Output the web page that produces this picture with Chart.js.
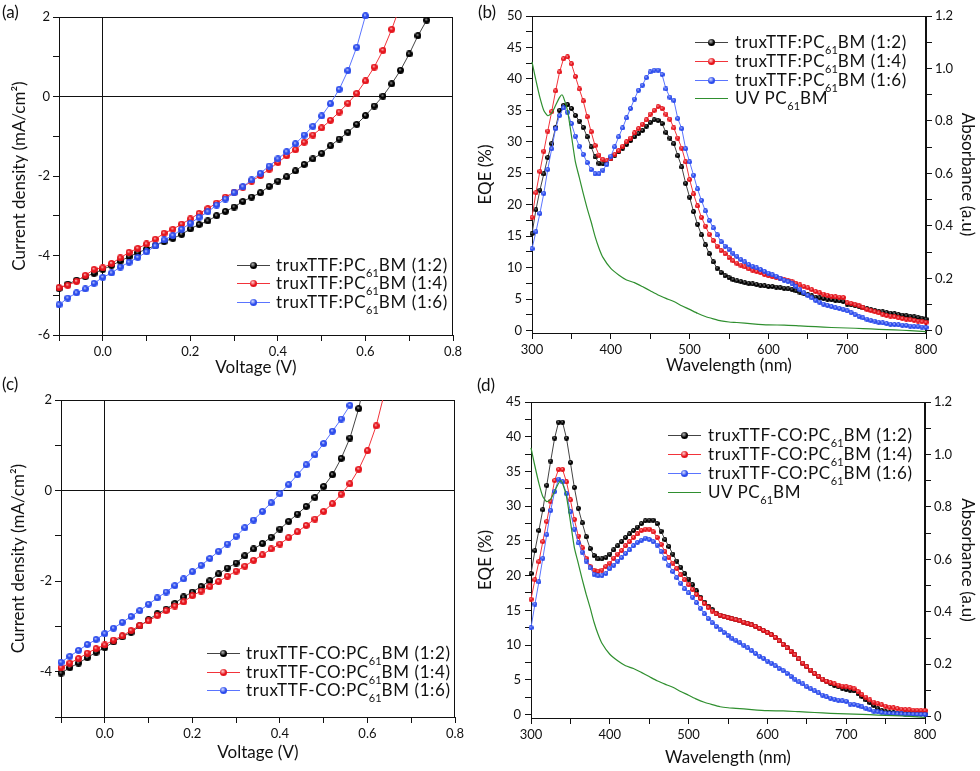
<!DOCTYPE html>
<html>
<head>
<meta charset="utf-8">
<script src="https://cdn.jsdelivr.net/npm/chart.js@4.4.1/dist/chart.umd.min.js"></script>
<style>
  body { margin: 0; background: #fff; }
  #fig { position: relative; width: 980px; height: 771px; overflow: hidden;
         font-family: Lato, "Open Sans", sans-serif; color: #111; }
  #fig canvas { position: absolute; }
  .tag { position: absolute; font-size: 17px; line-height: 17px; z-index: 2; }
  .leg { position: absolute; font-size: 17px; letter-spacing: 0.6px; white-space: nowrap; z-index: 2; }
  .leg .row { position: absolute; left: 0; height: 18px; }
  .leg .ln { position: absolute; left: 0; top: 9px; width: 33px; height: 1px; }
  .leg .dot { position: absolute; left: 13px; top: 6px; width: 7px; height: 7px; border-radius: 50%; }
  .leg .tx { position: absolute; top: 0; line-height: 18px; }
  .leg sub { font-size: 11px; letter-spacing: 0; line-height: 0; vertical-align: -6px; }
</style>
</head>
<body>
<div id="fig">
  <canvas id="cA" width="472" height="385" style="left:0;top:0"></canvas>
  <canvas id="cB" width="508" height="385" style="left:472px;top:0"></canvas>
  <canvas id="cC" width="472" height="386" style="left:0;top:385px"></canvas>
  <canvas id="cD" width="508" height="386" style="left:472px;top:385px"></canvas>
  <div class="tag" style="left:2px;top:3px">(a)</div>
  <div class="tag" style="left:478px;top:3px">(b)</div>
  <div class="tag" style="left:2px;top:375px">(c)</div>
  <div class="tag" style="left:477px;top:376px">(d)</div>
</div>
<script>
// =====================================================
// DATA
// =====================================================

// --- (a) J-V, truxTTF:PC61BM ---
const jvVoltageA = [
  -0.10, -0.08, -0.06, -0.04, -0.02, 0.00, 0.02, 0.04, 0.06, 0.08,
  0.10, 0.12, 0.14, 0.16, 0.18, 0.20, 0.22, 0.24, 0.26, 0.28,
  0.30, 0.32, 0.34, 0.36, 0.38, 0.40, 0.42, 0.44, 0.46, 0.48,
  0.50, 0.52, 0.54, 0.56, 0.58, 0.60, 0.62, 0.64, 0.66, 0.68,
  0.70, 0.72, 0.74
];
const jvA_12 = [
  -4.83, -4.72, -4.62, -4.53, -4.45, -4.35, -4.25, -4.14, -4.03, -3.93,
  -3.84, -3.75, -3.65, -3.57, -3.47, -3.33, -3.22, -3.13, -3.00, -2.89,
  -2.78, -2.64, -2.53, -2.42, -2.26, -2.13, -2.02, -1.87, -1.71, -1.57,
  -1.43, -1.24, -1.07, -0.90, -0.70, -0.48, -0.24, 0.01, 0.32, 0.66,
  1.07, 1.53, 1.92
];
const jvA_14 = [
  -4.81, -4.75, -4.65, -4.50, -4.35, -4.31, -4.20, -4.06, -3.92, -3.82,
  -3.71, -3.59, -3.44, -3.34, -3.21, -3.08, -2.94, -2.82, -2.68, -2.53,
  -2.41, -2.28, -2.13, -1.99, -1.83, -1.66, -1.49, -1.34, -1.15, -0.97,
  -0.79, -0.60, -0.39, -0.17, 0.08, 0.39, 0.74, 1.16, 1.69, 2.30,
  null, null, null
];
const jvA_16 = [
  -5.24, -5.07, -4.94, -4.84, -4.70, -4.55, -4.44, -4.29, -4.17, -4.05,
  -3.91, -3.76, -3.61, -3.50, -3.34, -3.19, -3.04, -2.90, -2.73, -2.58,
  -2.42, -2.27, -2.10, -1.93, -1.75, -1.57, -1.39, -1.19, -0.97, -0.75,
  -0.49, -0.18, 0.18, 0.65, 1.24, 2.03, null, null, null, null,
  null, null, null
];

// --- (c) J-V, truxTTF-CO:PC61BM ---
const jvVoltageC = [
  -0.10, -0.08, -0.06, -0.04, -0.02, 0.00, 0.02, 0.04, 0.06, 0.08,
  0.10, 0.12, 0.14, 0.16, 0.18, 0.20, 0.22, 0.24, 0.26, 0.28,
  0.30, 0.32, 0.34, 0.36, 0.38, 0.40, 0.42, 0.44, 0.46, 0.48,
  0.50, 0.52, 0.54, 0.56, 0.58, 0.60, 0.62, 0.64
];
const jvC_12 = [
  -4.03, -3.91, -3.81, -3.69, -3.57, -3.47, -3.34, -3.23, -3.13, -2.99,
  -2.85, -2.72, -2.62, -2.49, -2.35, -2.24, -2.12, -1.99, -1.84, -1.71,
  -1.60, -1.44, -1.29, -1.17, -1.03, -0.85, -0.68, -0.52, -0.35, -0.15,
  0.09, 0.35, 0.71, 1.16, 1.81, 2.70, null, null
];
const jvC_14 = [
  -3.91, -3.81, -3.71, -3.59, -3.49, -3.41, -3.30, -3.21, -3.09, -2.98,
  -2.88, -2.76, -2.65, -2.55, -2.46, -2.32, -2.22, -2.12, -2.01, -1.89,
  -1.78, -1.67, -1.54, -1.42, -1.29, -1.18, -1.04, -0.91, -0.77, -0.63,
  -0.46, -0.29, -0.08, 0.15, 0.47, 0.88, 1.43, 2.20
];
const jvC_16 = [
  -3.79, -3.66, -3.53, -3.40, -3.29, -3.16, -3.04, -2.91, -2.78, -2.65,
  -2.51, -2.37, -2.24, -2.10, -1.95, -1.79, -1.65, -1.50, -1.34, -1.18,
  -1.01, -0.82, -0.65, -0.46, -0.27, -0.07, 0.13, 0.35, 0.57, 0.79,
  1.04, 1.31, 1.58, 1.88, null, null, null, null
];

// --- (b)/(d) EQE spectra ---
const eqeWavelength = [
  300, 305, 310, 315, 320, 325, 330, 335, 340, 345,
  350, 355, 360, 365, 370, 375, 380, 385, 390, 395,
  400, 405, 410, 415, 420, 425, 430, 435, 440, 445,
  450, 455, 460, 465, 470, 475, 480, 485, 490, 495,
  500, 505, 510, 515, 520, 525, 530, 535, 540, 545,
  550, 555, 560, 565, 570, 575, 580, 585, 590, 595,
  600, 605, 610, 615, 620, 625, 630, 635, 640, 645,
  650, 655, 660, 665, 670, 675, 680, 685, 690, 695,
  700, 705, 710, 715, 720, 725, 730, 735, 740, 745,
  750, 755, 760, 765, 770, 775, 780, 785, 790, 795,
  800
];
const eqeB_12 = [
  15.4, 19.2, 22.3, 24.9, 27.5, 29.7, 32.3, 35.0, 35.8, 35.9,
  35.3, 34.2, 33.3, 32.3, 30.8, 29.2, 27.6, 26.6, 26.5, 26.8,
  27.3, 27.9, 28.4, 29.0, 29.6, 30.2, 30.8, 31.3, 31.8, 32.5,
  33.1, 33.5, 33.4, 32.9, 31.5, 30.6, 29.7, 27.8, 26.0, 23.4,
  21.2, 18.9, 16.9, 15.2, 13.6, 12.2, 10.9, 9.9, 9.2, 8.7,
  8.4, 8.1, 7.9, 7.8, 7.6, 7.5, 7.4, 7.3, 7.2, 7.1,
  7.0, 7.0, 6.9, 6.8, 6.7, 6.6, 6.5, 6.3, 6.1, 5.9,
  5.7, 5.5, 5.3, 5.2, 5.1, 5.0, 4.9, 4.8, 4.7, 4.6,
  4.2, 4.1, 3.95, 3.8, 3.6, 3.5, 3.35, 3.2, 3.05, 2.95,
  2.85, 2.75, 2.65, 2.55, 2.45, 2.35, 2.25, 2.15, 2.05, 1.95,
  1.8
];
const eqeB_14 = [
  18.0, 21.9, 25.3, 28.5, 31.7, 34.8, 38.1, 41.1, 43.2, 43.5,
  42.4, 40.4, 38.4, 36.5, 34.0, 31.6, 29.4, 27.9, 27.2, 27.0,
  27.3, 28.0, 28.6, 29.3, 30.0, 30.6, 31.4, 32.1, 32.8, 33.5,
  34.4, 35.0, 35.6, 35.3, 34.4, 33.6, 32.2, 30.6, 29.0, 26.8,
  24.0, 21.7, 19.8, 18.0, 16.6, 15.3, 14.3, 13.4, 12.7, 12.2,
  11.6, 11.1, 10.7, 10.4, 10.1, 9.8, 9.6, 9.4, 9.2, 8.9,
  8.7, 8.55, 8.4, 8.25, 8.1, 7.95, 7.75, 7.5, 7.25, 7.0,
  6.8, 6.5, 6.2, 6.0, 5.8, 5.6, 5.45, 5.35, 5.3, 5.25,
  4.4, 4.3, 4.1, 3.9, 3.7, 3.4, 3.2, 3.0, 2.8, 2.6,
  2.4, 2.3, 2.2, 2.0, 1.9, 1.8, 1.7, 1.6, 1.5, 1.4,
  1.3
];
const eqeB_16 = [
  13.0, 15.7, 18.6, 21.8, 25.6, 28.9, 32.1, 34.2, 35.4, 34.7,
  32.9, 30.9, 29.3, 28.0, 26.7, 25.6, 24.9, 24.9, 25.5, 26.4,
  27.7, 29.2, 30.8, 32.2, 33.8, 35.3, 36.8, 38.2, 39.0, 40.2,
  41.1, 41.4, 41.4, 40.7, 38.4, 37.1, 36.6, 33.7, 32.1, 28.9,
  26.8, 24.7, 22.5, 20.7, 19.0, 17.5, 16.3, 15.2, 14.1, 13.4,
  12.9, 12.3, 11.8, 11.3, 10.9, 10.5, 10.2, 9.95, 9.7, 9.4,
  9.1, 8.85, 8.6, 8.3, 8.0, 7.75, 7.4, 7.0, 6.5, 6.0,
  5.6, 5.2, 4.8, 4.5, 4.2, 4.0, 3.8, 3.6, 3.5, 3.3,
  3.1, 2.8, 2.5, 2.2, 2.0, 1.8, 1.6, 1.5, 1.3, 1.2,
  1.1, 1.0, 0.95, 0.9, 0.85, 0.8, 0.7, 0.65, 0.6, 0.55,
  0.5
];
const eqeD_12 = [
  20.3, 23.6, 26.5, 29.5, 33.0, 36.5, 39.8, 42.1, 42.1, 39.8,
  36.3, 32.7, 29.7, 27.6, 25.6, 23.9, 22.9, 22.4, 22.4, 22.6,
  23.1, 23.7, 24.3, 24.9, 25.5, 26.0, 26.5, 27.0, 27.5, 27.9,
  28.0, 28.0, 27.5, 26.4, 25.2, 24.2, 23.1, 22.1, 21.2, 20.3,
  19.5, 18.7, 17.8, 16.9, 16.2, 15.6, 15.1, 14.6, 14.3, 14.1,
  13.95, 13.8, 13.65, 13.5, 13.3, 13.1, 12.9, 12.7, 12.4, 12.1,
  11.8, 11.5, 11.1, 10.6, 10.1, 9.6, 9.1, 8.6, 8.0, 7.4,
  6.9, 6.4, 5.9, 5.5, 5.1, 4.8, 4.5, 4.2, 4.0, 3.8,
  3.6, 3.5, 3.4, 3.0, 2.6, 2.1, 1.7, 1.3, 0.9, 0.6,
  0.4, 0.3, 0.25, 0.2, 0.2, 0.15, 0.15, 0.12, 0.1, 0.1,
  0.1
];
const eqeD_14 = [
  16.6, 19.4, 22.0, 24.9, 27.8, 30.7, 33.7, 35.3, 35.3, 33.5,
  30.9, 28.1, 25.7, 24.0, 22.5, 21.3, 20.8, 20.6, 20.8, 21.3,
  21.8, 22.5, 23.1, 23.6, 24.3, 24.9, 25.5, 26.0, 26.5, 26.7,
  26.7, 26.3, 25.5, 24.5, 23.5, 22.6, 21.8, 21.0, 20.1, 19.4,
  18.7, 18.0, 17.3, 16.7, 16.0, 15.4, 14.9, 14.5, 14.3, 14.1,
  13.95, 13.8, 13.65, 13.5, 13.3, 13.1, 12.9, 12.7, 12.4, 12.1,
  11.8, 11.5, 11.1, 10.6, 10.1, 9.6, 9.1, 8.6, 8.0, 7.4,
  6.9, 6.4, 5.9, 5.5, 5.1, 4.8, 4.6, 4.4, 4.25, 4.1,
  4.0, 3.9, 3.7, 3.3, 2.9, 2.5, 2.1, 1.8, 1.6, 1.4,
  1.2, 1.05, 0.95, 0.85, 0.78, 0.72, 0.68, 0.65, 0.62, 0.6,
  0.58
];
const eqeD_16 = [
  12.5, 15.9, 19.1, 22.5, 25.9, 29.4, 32.1, 33.9, 33.5, 31.8,
  29.2, 26.7, 24.7, 23.4, 22.1, 21.1, 20.2, 20.0, 20.0, 20.3,
  21.0, 21.5, 22.1, 22.6, 23.2, 23.7, 24.3, 24.8, 25.1, 25.4,
  25.2, 24.9, 24.4, 23.5, 22.5, 21.5, 20.6, 19.7, 18.9, 18.1,
  17.5, 16.9, 16.1, 15.3, 14.5, 13.8, 13.2, 12.7, 12.2, 11.8,
  11.4, 11.0, 10.7, 10.35, 10.0, 9.6, 9.2, 8.8, 8.4, 8.1,
  7.7, 7.4, 7.0, 6.6, 6.3, 5.9, 5.5, 5.1, 4.7, 4.4,
  4.0, 3.7, 3.4, 3.1, 2.8, 2.55, 2.35, 2.2, 2.05, 1.95,
  1.9, 1.5, 1.45, 1.3, 1.1, 0.9, 0.7, 0.5, 0.4, 0.3,
  0.2, 0.15, 0.12, 0.1, 0.08, 0.06, 0.05, 0.04, 0.03, 0.02,
  0.02
];

// --- UV absorbance of PC61BM (same trace in (b) and (d)) ---
const uvWavelength = [
  300, 305, 310, 315, 320, 325, 330, 335, 338, 340,
  345, 350, 355, 360, 365, 370, 375, 380, 385, 390,
  400, 410, 420, 430, 440, 450, 460, 470, 480, 490,
  500, 510, 520, 530, 540, 550, 560, 580, 600, 620,
  640, 660, 680, 700, 720, 740, 760, 780, 800
];
const uvAbsorbance = [
  1.025, 0.955, 0.89, 0.84, 0.82, 0.83, 0.86, 0.89, 0.90, 0.89,
  0.84, 0.745, 0.645, 0.585, 0.524, 0.467, 0.416, 0.36, 0.315, 0.28,
  0.238, 0.213, 0.194, 0.184, 0.169, 0.153, 0.137, 0.124, 0.112, 0.096,
  0.082, 0.067, 0.055, 0.046, 0.038, 0.034, 0.032, 0.027, 0.023, 0.022,
  0.019, 0.016, 0.013, 0.011, 0.009, 0.006, 0.004, 0.001, -0.003
];

// --- legends ---
const legendA = ['truxTTF:PC<sub>61</sub>BM (1:2)', 'truxTTF:PC<sub>61</sub>BM (1:4)', 'truxTTF:PC<sub>61</sub>BM (1:6)'];
const legendB = [...legendA, 'UV PC<sub>61</sub>BM'];
const legendC = ['truxTTF-CO:PC<sub>61</sub>BM (1:2)', 'truxTTF-CO:PC<sub>61</sub>BM (1:4)', 'truxTTF-CO:PC<sub>61</sub>BM (1:6)'];
const legendD = [...legendC, 'UV PC<sub>61</sub>BM'];

// --- ticks ---
const jvXTicks = [-0.1, 0, 0.1, 0.2, 0.3, 0.4, 0.5, 0.6, 0.7, 0.8];
const jvXMajor = [0, 0.2, 0.4, 0.6, 0.8];
const jvYTicksA = [-6, -5, -4, -3, -2, -1, 0, 1, 2];
const jvYMajorA = [-6, -4, -2, 0, 2];
const jvYTicksC = [-5, -4, -3, -2, -1, 0, 1, 2];
const jvYMajorC = [-4, -2, 0, 2];
const wlTicks = [300, 350, 400, 450, 500, 550, 600, 650, 700, 750, 800];
const wlMajor = [300, 400, 500, 600, 700, 800];
const eqeTicksB = [0, 2.5, 5, 7.5, 10, 12.5, 15, 17.5, 20, 22.5, 25, 27.5, 30, 32.5, 35, 37.5, 40, 42.5, 45, 47.5, 50];
const eqeTicksD = [0, 2.5, 5, 7.5, 10, 12.5, 15, 17.5, 20, 22.5, 25, 27.5, 30, 32.5, 35, 37.5, 40, 42.5, 45];
const eqeMajor = [0, 5, 10, 15, 20, 25, 30, 35, 40, 45, 50];
const absTicks = [0, 0.1, 0.2, 0.3, 0.4, 0.5, 0.6, 0.7, 0.8, 0.9, 1.0, 1.1, 1.2];
const absMajor = [0, 0.2, 0.4, 0.6, 0.8, 1.0, 1.2];

// =====================================================
// STYLE
// =====================================================
const INK = '#111';
const STYLES = [
  { line: '#444', base: '#000', hi: '#b8b8b8' },        // 1:2
  { line: '#f2333a', base: '#e5141c', hi: '#ffd0d0' },  // 1:4
  { line: '#5a74ff', base: '#2c4cec', hi: '#d6ddff' }   // 1:6
];
const UV_COLOR = '#2f8f2f';

Chart.defaults.font.family = 'Lato, "Open Sans", sans-serif';
Chart.defaults.color = INK;

// petite bille ombrée pour les points
function makeBall(d, st) {
  const c = document.createElement('canvas');
  c.width = c.height = d;
  const g = c.getContext('2d');
  const r = d / 2;
  const grd = g.createRadialGradient(r * 0.8, r * 0.7, 0, r, r, r);
  grd.addColorStop(0, st.hi);
  grd.addColorStop(0.5, st.base);
  grd.addColorStop(1, st.base);
  g.fillStyle = grd;
  g.beginPath();
  g.arc(r, r, r, 0, Math.PI * 2);
  g.fill();
  return c;
}

function series(xs, ys, idx, ballSize, clip) {
  const pts = [];
  xs.forEach((x, i) => { if (ys[i] !== null) pts.push({ x, y: ys[i] }); });
  return {
    data: pts,
    borderColor: STYLES[idx].line,
    borderWidth: 1,
    pointStyle: makeBall(ballSize, STYLES[idx]),
    pointRadius: 3,
    pointHoverRadius: 3,
    tension: 0,
    fill: false,
    clip,
    order: 3 - idx
  };
}

function uvSeries() {
  return {
    data: uvWavelength.map((x, i) => ({ x, y: uvAbsorbance[i] })),
    yAxisID: 'y2',
    borderColor: UV_COLOR,
    borderWidth: 1.2,
    pointRadius: 0,
    tension: 0.2,
    fill: false,
    clip: false,
    order: 0
  };
}

function makeAxis(o) {
  return {
    type: 'linear',
    position: o.position,
    min: o.min,
    max: o.max,
    afterBuildTicks: s => { s.ticks = o.ticks.map(v => ({ value: v })); },
    afterFit: s => { if (s.isHorizontal()) s.height = o.size; else s.width = o.size; },
    border: { color: INK, width: 1 },
    grid: {
      drawOnChartArea: !!o.zeroLine,
      color: c => (o.zeroLine && c.tick && c.tick.value === 0) ? INK : 'rgba(0,0,0,0)',
      tickColor: INK,
      tickLength: 6
    },
    ticks: {
      color: INK, font: { size: 13 }, padding: o.tickPad, autoSkip: false, maxRotation: 0,
      callback: v => o.majors.includes(v) ? o.fmt(v) : ''
    },
    title: { display: true, text: o.title, color: INK, font: { size: 17 }, padding: o.titlePad }
  };
}

// cadre complet autour de la zone de tracé
const framePlugin = {
  id: 'frame',
  beforeDatasetsDraw(chart) {
    const { ctx, chartArea: a } = chart;
    const L = Math.round(a.left), T = Math.round(a.top), R = Math.round(a.right), B = Math.round(a.bottom);
    ctx.save();
    ctx.strokeStyle = INK;
    ctx.lineWidth = 1;
    ctx.strokeRect(L + 0.5, T + 0.5, R - L - 1, B - T);
    ctx.restore();
  }
};

function panel(id, datasets, scales, padding) {
  return new Chart(document.getElementById(id), {
    type: 'line',
    data: { datasets },
    options: {
      responsive: false,
      animation: false,
      events: [],
      layout: { padding },
      plugins: { legend: { display: false }, tooltip: { enabled: false } },
      scales
    },
    plugins: [framePlugin]
  });
}

const fmtV = v => v.toFixed(1);
const fmtInt = v => String(v);
const fmtAbs = v => v === 0 ? '0' : v.toFixed(1);
const CLIP_TOP = { left: false, right: false, bottom: false, top: 0 };

// =====================================================
// (a)
// =====================================================
panel('cA', [
  series(jvVoltageA, jvA_12, 0, 7, CLIP_TOP),
  series(jvVoltageA, jvA_14, 1, 7, CLIP_TOP),
  series(jvVoltageA, jvA_16, 2, 7, false)
], {
  x: makeAxis({ position: 'bottom', min: -0.1, max: 0.8, ticks: jvXTicks, majors: jvXMajor, fmt: fmtV,
    size: 50, tickPad: 3, zeroLine: true, title: 'Voltage (V)', titlePad: { top: 0, bottom: 7 } }),
  y: makeAxis({ position: 'left', min: -6, max: 2, ticks: jvYTicksA, majors: jvYMajorA, fmt: fmtInt,
    size: 59, tickPad: 3, zeroLine: true, title: 'Current density (mA/cm²)', titlePad: { top: 9, bottom: 0 } })
}, { top: 17, right: 19, left: 0, bottom: 0 });

// =====================================================
// (b)
// =====================================================
panel('cB', [
  series(eqeWavelength, eqeB_12, 0, 5, false),
  series(eqeWavelength, eqeB_14, 1, 5, false),
  series(eqeWavelength, eqeB_16, 2, 5, false),
  uvSeries()
], {
  x: makeAxis({ position: 'bottom', min: 300, max: 800, ticks: wlTicks, majors: wlMajor, fmt: fmtInt,
    size: 52, tickPad: 3, title: 'Wavelength (nm)', titlePad: { top: 0, bottom: 9 } }),
  y: makeAxis({ position: 'left', min: -0.4, max: 50, ticks: eqeTicksB, majors: eqeMajor, fmt: fmtInt,
    size: 60, tickPad: 4, title: 'EQE (%)', titlePad: { top: 3, bottom: 0 } }),
  y2: makeAxis({ position: 'right', min: -0.008, max: 1.2, ticks: absTicks, majors: absMajor, fmt: fmtAbs,
    size: 54, tickPad: 3, title: 'Absorbance (a.u)', titlePad: { top: 2, bottom: 0 } })
}, { top: 16, right: 0, left: 0, bottom: 0 });

// =====================================================
// (c)
// =====================================================
panel('cC', [
  series(jvVoltageC, jvC_12, 0, 7, CLIP_TOP),
  series(jvVoltageC, jvC_14, 1, 7, CLIP_TOP),
  series(jvVoltageC, jvC_16, 2, 7, false)
], {
  x: makeAxis({ position: 'bottom', min: -0.1, max: 0.8, ticks: jvXTicks, majors: jvXMajor, fmt: fmtV,
    size: 54, tickPad: 3, zeroLine: true, title: 'Voltage (V)', titlePad: { top: 0, bottom: 8 } }),
  y: makeAxis({ position: 'left', min: -5, max: 2, ticks: jvYTicksC, majors: jvYMajorC, fmt: fmtInt,
    size: 61, tickPad: 3, zeroLine: true, title: 'Current density (mA/cm²)', titlePad: { top: 8, bottom: 0 } })
}, { top: 15, right: 17, left: 0, bottom: 0 });

// =====================================================
// (d)
// =====================================================
panel('cD', [
  series(eqeWavelength, eqeD_12, 0, 5, false),
  series(eqeWavelength, eqeD_14, 1, 5, false),
  series(eqeWavelength, eqeD_16, 2, 5, false),
  uvSeries()
], {
  x: makeAxis({ position: 'bottom', min: 300, max: 800, ticks: wlTicks, majors: wlMajor, fmt: fmtInt,
    size: 53, tickPad: 3, title: 'Wavelength (nm)', titlePad: { top: 0, bottom: 3 } }),
  y: makeAxis({ position: 'left', min: -0.5, max: 45, ticks: eqeTicksD, majors: eqeMajor, fmt: fmtInt,
    size: 59, tickPad: 4, title: 'EQE (%)', titlePad: { top: 3, bottom: 0 } }),
  y2: makeAxis({ position: 'right', min: -0.005, max: 1.2, ticks: absTicks, majors: absMajor, fmt: fmtAbs,
    size: 55, tickPad: 3, title: 'Absorbance (a.u)', titlePad: { top: 2, bottom: 0 } })
}, { top: 17, right: 0, left: 0, bottom: 0 });

// =====================================================
// LÉGENDES (html, pour les indices 61)
// =====================================================
function legend(left, rowsY, textLeft, labels) {
  const box = document.createElement('div');
  box.className = 'leg';
  box.style.left = left + 'px';
  box.style.top = '0px';
  labels.forEach((lab, i) => {
    const row = document.createElement('div');
    row.className = 'row';
    row.style.top = (rowsY[i] - 9) + 'px';
    const isUV = i === 3;
    const col = isUV ? UV_COLOR : STYLES[i].line;
    let html = '<div class="ln" style="background:' + col + '"></div>';
    if (!isUV) {
      const st = STYLES[i];
      html += '<div class="dot" style="background:radial-gradient(circle at 40% 35%,' + st.hi + ' 0%,' + st.base + ' 50%,' + st.base + ' 100%)"></div>';
    }
    html += '<div class="tx" style="left:' + textLeft + 'px">' + lab + '</div>';
    row.innerHTML = html;
    box.appendChild(row);
  });
  document.getElementById('fig').appendChild(box);
}

legend(237, [265, 283, 302], 39, legendA);
legend(695, [42, 61, 80, 98], 40, legendB);
legend(207, [653, 672, 690], 39, legendC);
legend(668, [435, 454, 473, 492], 40, legendD);
</script>
</body>
</html>
